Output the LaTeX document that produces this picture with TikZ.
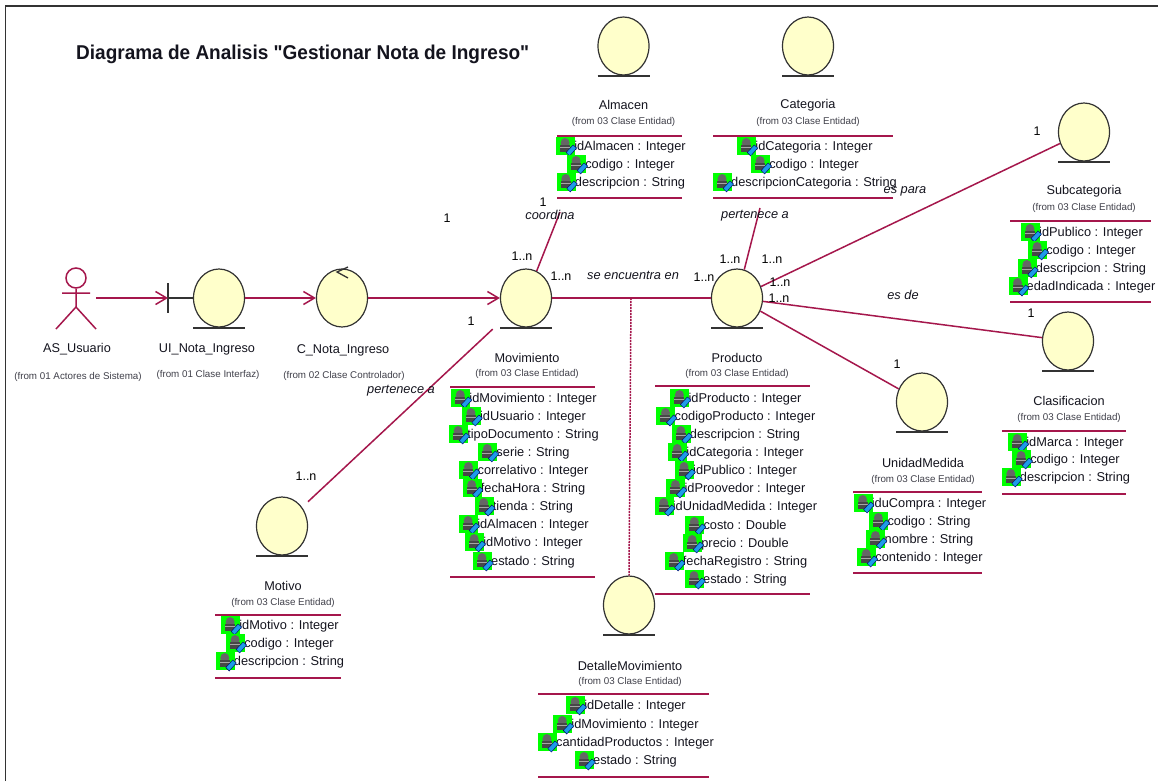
\documentclass[tikz,border=0pt]{standalone}
\usepackage{fontspec}
\setmainfont{Liberation Sans}
\newfontfamily\ttlfont[FakeStretch=0.95]{Liberation Sans}
\usetikzlibrary{arrows.meta,shapes.geometric,calc}
\definecolor{rel}{HTML}{A5174C}
\definecolor{bndfill}{HTML}{FFFFCB}
\definecolor{bndline}{HTML}{333333}
\definecolor{ink}{HTML}{14141E}
\definecolor{fromink}{HTML}{40404A}
\definecolor{pencil}{HTML}{1E9BE8}
\newcounter{attrc}
\tikzset{
  bnd/.style={ellipse,draw=bndline,fill=bndfill,line width=1.2pt,minimum width=51pt,minimum height=58pt,inner sep=0pt},
  base/.style={draw=bndline,line width=1.3pt},
  assoc/.style={draw=rel,line width=1.5pt},
  flow/.style={assoc,-{Straight Barb[length=11pt,width=13pt,line width=1.5pt]}},
  sep/.style={draw=rel,line width=1.4pt},
  cname/.style={font=\fontsize{12.7}{13}\selectfont,text=ink,inner sep=0pt},
  cfrom/.style={font=\fontsize{9.8}{10}\selectfont,text=fromink,inner sep=0pt},
  attrtext/.style={font=\fontsize{12.8}{13}\selectfont,text=ink,inner sep=0pt,text height=10pt,text depth=2pt},
  rlabel/.style={font=\itshape\fontsize{12.8}{13}\selectfont,text=ink,inner sep=0pt},
  mult/.style={font=\fontsize{12.5}{13}\selectfont,text=black,inner sep=0pt},
  title/.style={font=\ttlfont\bfseries\fontsize{20}{21}\selectfont,text=ink,inner sep=0pt}
}
\newcommand{\bndat}[3]{%
  \node[bnd] (#1) at (#2,#3) {};
  \draw[base] ($(#1.south)+(-26,0.5)$) -- ($(#1.south)+(26,0.5)$);
}
\newcommand{\attr}[3]{%
  \stepcounter{attrc}%
  \node[attrtext] (attr\theattrc) at (#1+9,#2) {#3};
  \begin{scope}[shift={(attr\theattrc.west)}]
    \fill[green] (-18,-9) rectangle (1,9);
    \fill[black!60] (-9,-3) ellipse[x radius=4.5,y radius=5];
    \fill[black!72] (-14,-1) rectangle (-4,6);
    \fill[black!35] (-14,1) rectangle (-4,2.2);
    \filldraw[fill=pencil,draw=blue!40!black,line width=.4pt] (-8,6.5) -- (-1,-1) -- (2.5,2) -- (-4.5,10) -- cycle;
  \end{scope}
}
\newcommand{\cls}[5]{% id x name-y from-y name
  \node[cname] (#1name) at (#2,#3) {#5};
  \node[cfrom] (#1from) at (#2,#4) {(from 03 Clase Entidad)};
}
\begin{document}
\begin{tikzpicture}[x=1pt,y=-1pt]
\useasboundingbox (0,0) rectangle (1158,781);
\fill[white] (0,0) rectangle (1158,781);
\draw[bndline,line width=1.5pt] (5.5,781) -- (5.5,6) -- (1158,6);

\node[title,anchor=west] (ttl) at (76,54) {Diagrama de Analisis "Gestionar Nota de Ingreso"};

% actor
\node[circle,draw=rel,line width=1.5pt,minimum size=20pt,inner sep=0pt] (act) at (76,278) {};
\coordinate (actarm1) at (62,293);
\coordinate (actarm2) at (90,293);
\coordinate (acthip) at (76,307);
\coordinate (actl) at (56,329);
\coordinate (actr) at (96,329);
\coordinate (actout) at (96,298);
\draw[assoc] (act.south) -- (acthip) (actarm1) -- (actarm2) (actl) -- (acthip) -- (actr);
\node[cname] (actname) at (77,349) {AS\_Usuario};
\node[cfrom] (actfrom) at (78,377) {(from 01 Actores de Sistema)};

% interface
\bndat{ui}{219}{298}
\coordinate (uibar) at (168,298);
\coordinate (uibart) at (168,283);
\coordinate (uibarb) at (168,313);
\draw[base] (uibart) -- (uibarb);
\draw[base] (uibar) -- (ui.west);
\node[cname] (uiname) at (207,349) {UI\_Nota\_Ingreso};
\node[cfrom] (uifrom) at (208,375) {(from 01 Clase Interfaz)};

% control
\node[bnd] (ctl) at (342,298) {};
\coordinate (ctla) at (348,267);
\coordinate (ctlb) at (337,272);
\coordinate (ctlc) at (348,278);
\draw[base] (ctla) -- (ctlb) -- (ctlc);
\node[cname] (ctlname) at (343,350) {C\_Nota\_Ingreso};
\node[cfrom] (ctlfrom) at (344,376) {(from 02 Clase Controlador)};

% entities
\bndat{mov}{526}{298}
\bndat{prod}{737}{298}
\bndat{alm}{623.5}{46}
\bndat{cat}{808}{46}
\bndat{sub}{1084}{132}
\bndat{cla}{1068}{341}
\bndat{uni}{922}{402}
\bndat{mot}{282}{526}
\bndat{det}{629}{605}

% connectors
\draw[flow] (actout) -- (uibar);
\draw[flow] (ui.east) -- (ctl.west);
\draw[flow] (ctl.east) -- (mov.west);
\draw[assoc] (mov.east) -- (prod.west);
\coordinate (almend) at (560,212);
\coordinate (catend) at (760,208);
\draw[assoc] (mov) -- (almend);
\draw[assoc] (prod) -- (catend);
\draw[assoc] (prod) -- (sub);
\draw[assoc] (prod) -- (cla);
\draw[assoc] (prod) -- (uni);
\draw[assoc,shorten <=8pt,shorten >=18pt] (mot) -- (mov);
\coordinate (relmid) at (631,298);
\draw[draw=rel,line width=1.5pt,dash pattern=on 2pt off 1pt] (relmid) -- (det.north);

% connector labels
\node[mult] (m1) at (447,218) {1};
\node[mult] (m2) at (543,202) {1};
\node[rlabel] (l1) at (550,215) {coordina};
\node[mult] (m3) at (522,256) {1..n};
\node[mult] (m4) at (561,276) {1..n};
\node[rlabel] (l2) at (633,275) {se encuentra en};
\node[mult] (m5) at (704,277) {1..n};
\node[mult] (m6) at (730,259) {1..n};
\node[mult] (m7) at (772,259) {1..n};
\node[mult] (m8) at (780,282) {1..n};
\node[mult] (m9) at (779,298) {1..n};
\node[rlabel] (l3) at (755,216) {pertenece a};
\node[rlabel] (l4) at (905,191) {es para};
\node[rlabel] (l5) at (903,295) {es de};
\node[mult] (m10) at (1037,131) {1};
\node[mult] (m11) at (1031,313) {1};
\node[mult] (m12) at (897,364) {1};
\node[mult] (m13) at (471,321) {1};
\node[rlabel] (l6) at (401,391) {pertenece a};
\node[mult] (m14) at (306,476) {1..n};

% Almacen
\cls{alm}{623.5}{105}{122}{Almacen}
\draw[sep] (557,136) -- (682,136) (557,198) -- (682,198);
\attr{621}{146}{idAlmacen : Integer}
\attr{621}{164}{codigo : Integer}
\attr{621}{182}{descripcion : String}
% Categoria
\cls{cat}{808}{105}{122}{Categoria}
\draw[sep] (713,136) -- (893,136) (713,198) -- (893,198);
\attr{805}{146}{idCategoria : Integer}
\attr{805}{164}{codigo : Integer}
\attr{805}{182}{descripcionCategoria : String}
% Subcategoria
\cls{sub}{1084}{191}{208}{Subcategoria}
\draw[sep] (1010,221) -- (1151,221) (1010,302) -- (1151,302);
\attr{1082}{232}{idPublico : Integer}
\attr{1082}{250}{codigo : Integer}
\attr{1082}{268}{descripcion : String}
\attr{1082}{286}{edadIndicada : Integer}
% Clasificacion
\cls{cla}{1069}{401}{418}{Clasificacion}
\draw[sep] (1002,431) -- (1126,431) (1002,494) -- (1126,494);
\attr{1066}{442}{idMarca : Integer}
\attr{1066}{459}{codigo : Integer}
\attr{1066}{477}{descripcion : String}
% UnidadMedida
\cls{uni}{923}{463}{480}{UnidadMedida}
\draw[sep] (853,492) -- (982,492) (853,573) -- (982,573);
\attr{920}{503}{iduCompra : Integer}
\attr{920}{521}{codigo : String}
\attr{920}{539}{nombre : String}
\attr{920}{557}{contenido : Integer}
% Motivo
\cls{mot}{283}{586}{603}{Motivo}
\draw[sep] (215,615) -- (341,615) (215,678) -- (341,678);
\attr{280}{625}{idMotivo : Integer}
\attr{280}{643}{codigo : Integer}
\attr{280}{661}{descripcion : String}
% Movimiento
\cls{mov}{527}{358}{374}{Movimiento}
\draw[sep] (450,387) -- (595,387) (450,577) -- (595,577);
\attr{524}{398}{idMovimiento : Integer}
\attr{524}{416}{idUsuario : Integer}
\attr{524}{434}{tipoDocumento : String}
\attr{524}{452}{serie : String}
\attr{524}{470}{correlativo : Integer}
\attr{524}{488}{fechaHora : String}
\attr{524}{506}{tienda : String}
\attr{524}{524}{idAlmacen : Integer}
\attr{524}{542}{idMotivo : Integer}
\attr{524}{561}{estado : String}
% Producto
\cls{prod}{737}{358}{374}{Producto}
\draw[sep] (655,386) -- (810,386) (655,594) -- (810,594);
\attr{736}{398}{idProducto : Integer}
\attr{736}{416}{codigoProducto : Integer}
\attr{736}{434}{descripcion : String}
\attr{736}{452}{idCategoria : Integer}
\attr{736}{470}{idPublico : Integer}
\attr{736}{488}{idProovedor : Integer}
\attr{736}{506}{idUnidadMedida : Integer}
\attr{736}{525}{costo : Double}
\attr{736}{543}{precio : Double}
\attr{736}{561}{fechaRegistro : String}
\attr{736}{579}{estado : String}
% DetalleMovimiento
\cls{det}{630}{666}{682}{DetalleMovimiento}
\draw[sep] (538,694) -- (709,694) (538,777) -- (709,777);
\attr{626}{705}{idDetalle : Integer}
\attr{626}{724}{idMovimiento : Integer}
\attr{626}{742}{cantidadProductos : Integer}
\attr{626}{760}{estado : String}
\end{tikzpicture}
\end{document}
